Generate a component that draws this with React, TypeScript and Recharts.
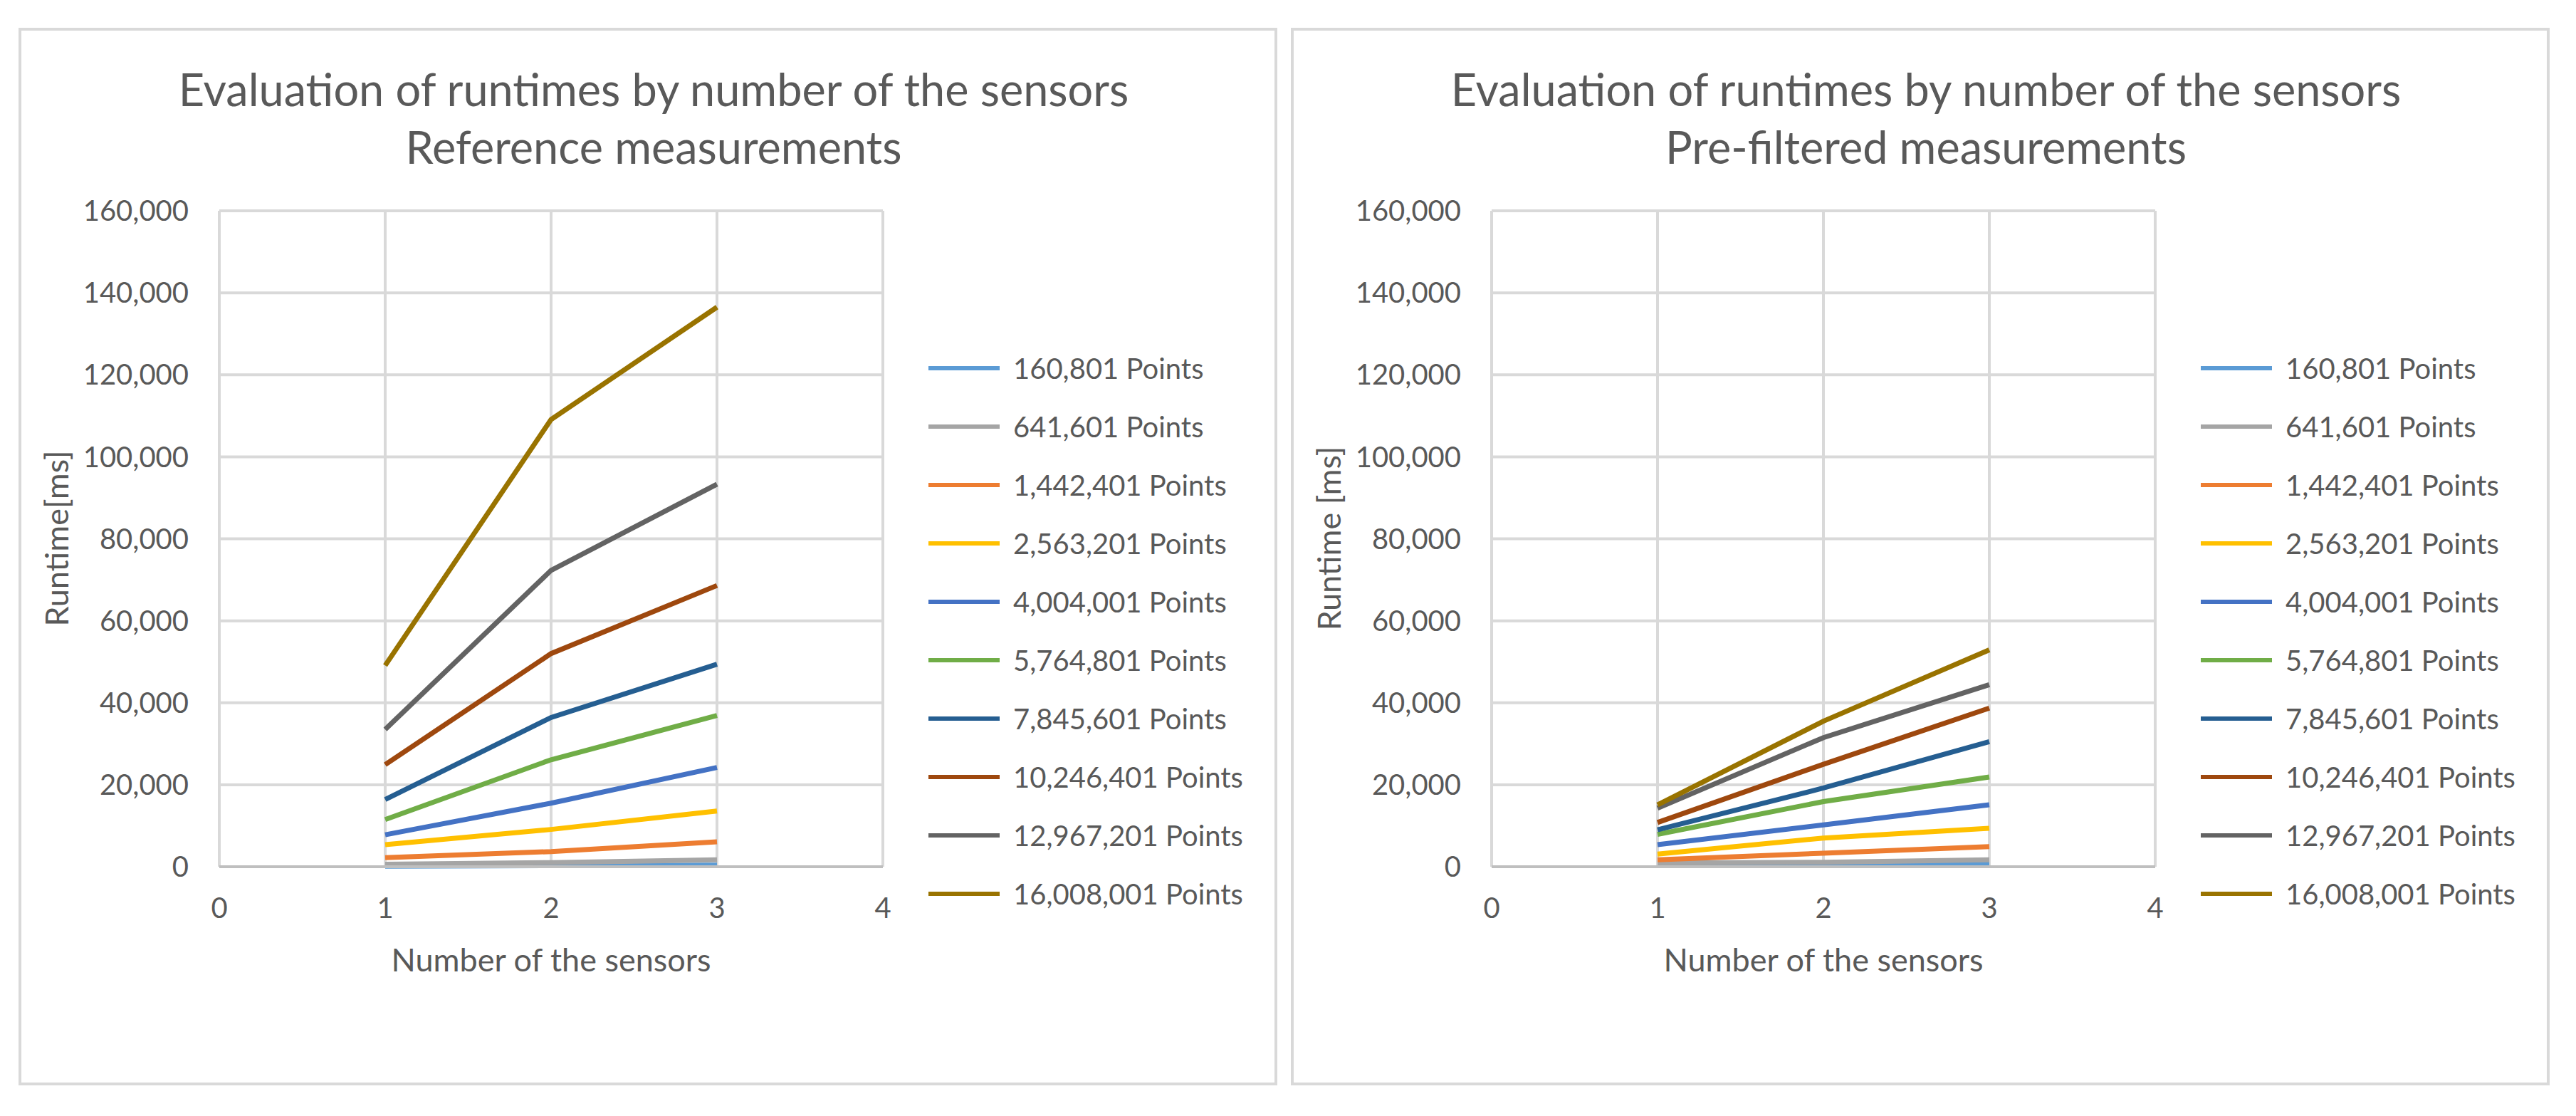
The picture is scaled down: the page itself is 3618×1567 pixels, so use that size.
import { LineChart, Line, XAxis, YAxis, CartesianGrid, Legend } from 'recharts'

const SENSORS = [1, 2, 3]
const X_TICKS = [0, 1, 2, 3, 4]
const Y_TICKS = [0, 20000, 40000, 60000, 80000, 100000, 120000, 140000, 160000]

const POINT_LABELS = [
  '160,801 Points', '641,601 Points', '1,442,401 Points', '2,563,201 Points', '4,004,001 Points',
  '5,764,801 Points', '7,845,601 Points', '10,246,401 Points', '12,967,201 Points', '16,008,001 Points',
]
const COLORS = ['#5B9BD5', '#A5A5A5', '#ED7D31', '#FFC000', '#4472C4', '#70AD47', '#255E91', '#9E480E', '#636363', '#997300']

// runtime [ms] per series at 1, 2, 3 sensors
const REFERENCE_MS = [
  [150, 250, 400],
  [600, 1000, 1700],
  [2200, 3700, 6100],
  [5400, 9100, 13600],
  [7800, 15500, 24200],
  [11500, 26100, 36900],
  [16400, 36400, 49400],
  [24900, 52000, 68600],
  [33500, 72300, 93300],
  [49100, 109100, 136500],
]
const PREFILTERED_MS = [
  [300, 400, 600],
  [900, 1100, 1700],
  [1700, 3300, 4900],
  [3100, 7000, 9400],
  [5400, 10200, 15100],
  [7900, 15900, 21900],
  [9000, 19200, 30500],
  [10800, 25000, 38700],
  [14300, 31500, 44400],
  [15100, 35500, 52900],
]

const FONT = "Lato, 'Open Sans', sans-serif"
const TEXT = '#595959'
const GRID = '#d9d9d9'

const PANEL_W = 1768
const PANEL_H = 1485
const BORDER = 4
const CHART_W = PANEL_W - 2 * BORDER
const CHART_H = PANEL_H - 2 * BORDER
const PLOT_LEFT = 278
const PLOT_TOP = 253
const PLOT_RIGHT = 1210
const PLOT_BOTTOM = 1174
const X_AXIS_H = 60

function buildRows(values: number[][]) {
  return SENSORS.map((n, i) => {
    const row: Record<string, number> = { sensors: n }
    values.forEach((s, k) => { row[`s${k}`] = s[i] })
    return row
  })
}

// keep the series order (recharts sorts legend items by name otherwise)
function LegendBox() {
  return (
    <div style={{ fontFamily: FONT }}>
      {POINT_LABELS.map((label, k) => (
        <div key={label} style={{ height: 82, display: 'flex', alignItems: 'center' }}>
          <span style={{ width: 100, height: 6, background: COLORS[k], display: 'inline-block' }} />
          <span style={{ marginLeft: 19, fontSize: 40, color: TEXT, whiteSpace: 'nowrap', lineHeight: 1 }}>{label}</span>
        </div>
      ))}
    </div>
  )
}

function Panel({ left, subtitle, yTitle, values }: { left: number; subtitle: string; yTitle: string; values: number[][] }) {
  const rows = buildRows(values)
  return (
    <div style={{
      position: 'absolute', left, top: 39, width: PANEL_W, height: PANEL_H,
      border: `${BORDER}px solid ${GRID}`, boxSizing: 'border-box', background: '#fff', fontFamily: FONT, color: TEXT,
    }}>
      <div style={{ position: 'absolute', left: 8, top: 41, width: CHART_W, textAlign: 'center', fontSize: 63, lineHeight: '81px', whiteSpace: 'nowrap' }}>
        Evaluation of runtimes by number of the sensors<br />{subtitle}
      </div>
      <LineChart
        width={CHART_W}
        height={CHART_H}
        data={rows}
        margin={{ top: PLOT_TOP, right: CHART_W - PLOT_RIGHT, bottom: CHART_H - PLOT_BOTTOM - X_AXIS_H, left: 0 }}
      >
        <CartesianGrid stroke={GRID} strokeWidth={4} />
        <XAxis
          type="number" dataKey="sensors" domain={[0, 4]} ticks={X_TICKS} interval={0} height={X_AXIS_H}
          tick={{ fill: TEXT, fontSize: 40, fontFamily: FONT }} tickLine={false} tickSize={0} tickMargin={44}
          axisLine={{ stroke: '#bfbfbf', strokeWidth: 4 }}
        />
        <YAxis
          type="number" domain={[0, 160000]} ticks={Y_TICKS} interval={0} width={PLOT_LEFT}
          tick={{ fill: TEXT, fontSize: 40, fontFamily: FONT }} tickLine={false} tickSize={0} tickMargin={43}
          axisLine={false} tickFormatter={(v: number) => v.toLocaleString('en-US')}
        />
        {POINT_LABELS.map((label, k) => (
          <Line key={label} type="linear" dataKey={`s${k}`} name={label} stroke={COLORS[k]} strokeWidth={7} dot={false} isAnimationActive={false} />
        ))}
        <Legend
          layout="vertical" align="center" verticalAlign="middle"
          wrapperStyle={{ left: 1274, top: 433, width: 480, height: 820 }}
          content={LegendBox}
        />
      </LineChart>
      <div style={{ position: 'absolute', left: 49, top: 713, transform: 'translate(-50%, -50%) rotate(-90deg)', fontSize: 45, whiteSpace: 'nowrap' }}>
        {yTitle}
      </div>
      <div style={{ position: 'absolute', left: 744, top: 1304, transform: 'translate(-50%, -50%)', fontSize: 45, whiteSpace: 'nowrap' }}>
        Number of the sensors
      </div>
    </div>
  )
}

export default function App() {
  return (
    <div style={{ position: 'absolute', left: 0, top: 0, width: 3618, height: 1567, background: '#fff' }}>
      <Panel left={26} subtitle="Reference measurements" yTitle="Runtime[ms]" values={REFERENCE_MS} />
      <Panel left={1813} subtitle="Pre-filtered measurements" yTitle="Runtime [ms]" values={PREFILTERED_MS} />
    </div>
  )
}
